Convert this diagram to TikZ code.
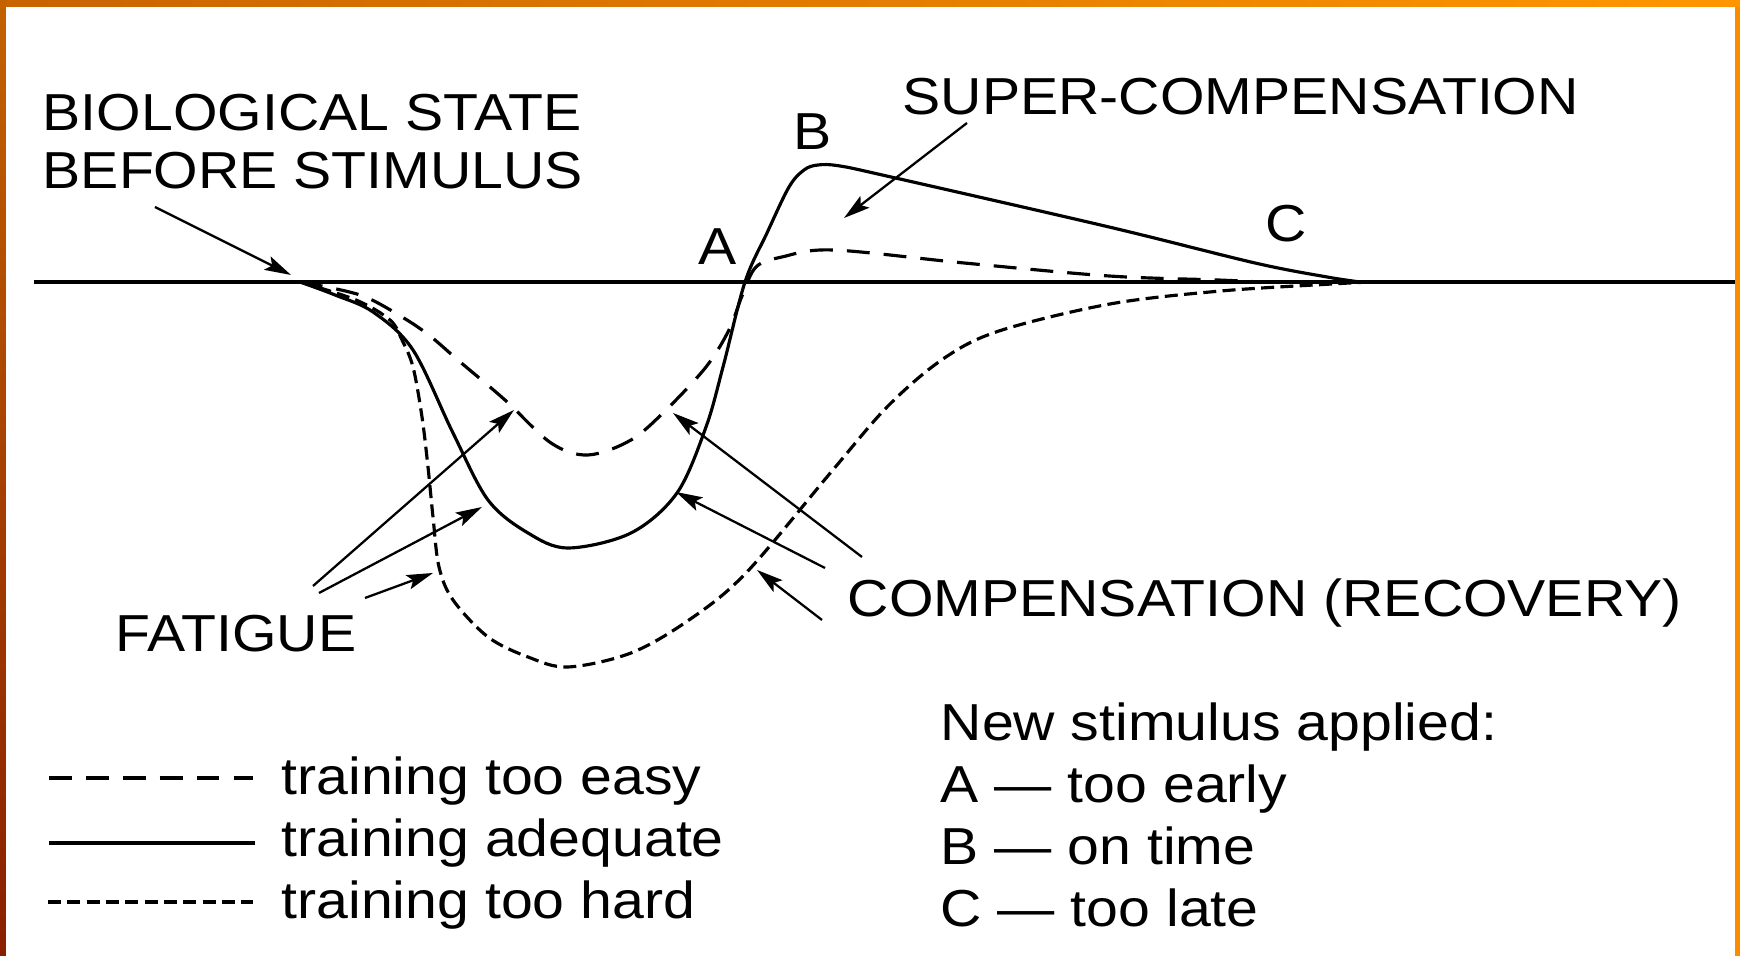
\documentclass[tikz,border=0pt]{standalone}
\usepackage{tikz}
\usetikzlibrary{arrows.meta,positioning,calc}
\usepackage{fontspec}
\setmainfont{Liberation Sans}[FakeStretch=1.1]
\definecolor{FrameTopL}{RGB}{200,100,0}
\definecolor{FrameTopR}{RGB}{255,150,0}
\definecolor{FrameLeftT}{RGB}{196,98,0}
\definecolor{FrameLeftB}{RGB}{138,30,0}
\definecolor{FrameRight}{RGB}{250,140,0}

\begin{document}
\begin{tikzpicture}[
  lbl/.style={font=\fontsize{14.8}{16.7}\selectfont,inner sep=0pt},
  arr/.style={-{Stealth[length=7.5pt,width=4.2pt,inset=1.5pt]},line width=0.65pt},
  adequate/.style={line width=0.9pt},
  tooeasy/.style={line width=0.9pt,dash pattern=on 6.5pt off 4pt},
  toohard/.style={line width=0.9pt,dash pattern=on 3.7pt off 1.8pt},
]
\useasboundingbox (0,0) rectangle (17.4,9.56);
\fill[white] (0,0) rectangle (17.4,9.56);
% frame
\shade[left color=FrameTopL,right color=FrameTopR] (0,9.49) rectangle (17.4,9.56);
\shade[top color=FrameLeftT,bottom color=FrameLeftB] (0,0) rectangle (0.06,9.56);
\fill[FrameRight] (17.35,0) rectangle (17.4,9.49);

% baseline (biological state)
\draw[line width=1pt] (0.34,6.74) -- (17.35,6.74);

% the three curves
\draw[adequate] plot[smooth,tension=0.55] coordinates {
  (3.00,6.74) (3.35,6.61) (3.73,6.44) (4.13,6.06) (4.53,5.23) (4.88,4.56)
  (5.28,4.23) (5.68,4.08) (6.31,4.23) (6.77,4.63) (7.06,5.29) (7.23,5.89)
  (7.45,6.74) (7.67,7.23) (7.89,7.69) (8.04,7.86) (8.18,7.91) (8.40,7.90)
  (8.91,7.79) (11.09,7.29) (12.55,6.93) (13.27,6.79) (13.60,6.74)};
\draw[tooeasy] plot[smooth,tension=0.55] coordinates {
  (3.00,6.74) (3.60,6.61) (4.02,6.39) (4.30,6.20) (4.59,5.95) (5.05,5.56)
  (5.51,5.13) (5.88,5.01) (6.31,5.16) (6.66,5.46) (7.06,5.89) (7.29,6.26)
  (7.42,6.60) (7.56,6.89) (7.82,6.99) (8.33,7.06) (9.64,6.93) (11.09,6.80)
  (12.18,6.76) (12.60,6.74)};
\draw[toohard] plot[smooth,tension=0.55] coordinates {
  (3.00,6.74) (3.56,6.56) (3.90,6.36) (4.02,6.16) (4.13,5.89) (4.22,5.39)
  (4.28,4.89) (4.33,4.39) (4.39,3.89) (4.53,3.56) (4.88,3.19) (5.28,2.99)
  (5.68,2.89) (6.31,3.03) (6.89,3.36) (7.46,3.83) (8.32,4.85) (8.88,5.50)
  (9.43,5.97) (9.99,6.25) (11.10,6.52) (12.21,6.65) (13.32,6.72) (13.71,6.74)};

% labels on the curves
\node[lbl,anchor=north west,align=left] (bio) at (0.42,8.63)
  {BIOLOGICAL STATE\\BEFORE STIMULUS};
\node[lbl,anchor=base west] (super) at (9.02,8.41) {SUPER-COMPENSATION};
\node[lbl,anchor=base west] (ptA) at (6.98,6.91) {A};
\node[lbl,anchor=base west] (ptB) at (7.93,8.06) {B};
\node[lbl,anchor=base west] (ptC) at (12.65,7.14) {C};
\node[lbl,anchor=base west] (fatigue) at (1.15,3.04) {FATIGUE};
\node[lbl,anchor=base west] (comp) at (8.47,3.39) {COMPENSATION (RECOVERY)};

% arrow ends
\coordinate (bioTail) at (1.55,7.49);
\coordinate (bioTip) at (2.91,6.81);
\coordinate (superTail) at (9.67,8.33);
\coordinate (superTip) at (8.44,7.38);
\coordinate (fatEasy) at (3.13,3.70);
\coordinate (fatAdeq) at (3.19,3.63);
\coordinate (fatHard) at (3.65,3.58);
\coordinate (easyDip) at (5.14,5.46);
\coordinate (adeqDip) at (4.82,4.49);
\coordinate (hardDip) at (4.33,3.83);
\coordinate (compEasy) at (8.62,3.99);
\coordinate (compAdeq) at (8.25,3.88);
\coordinate (compHard) at (8.22,3.36);
\coordinate (easyRise) at (6.73,5.43);
\coordinate (adeqRise) at (6.76,4.64);
\coordinate (hardRise) at (7.57,3.86);

\draw[arr] (bioTail) -- (bioTip);
\draw[arr] (superTail) -- (superTip);
\draw[arr] (fatEasy) -- (easyDip);
\draw[arr] (fatAdeq) -- (adeqDip);
\draw[arr] (fatHard) -- (hardDip);
\draw[arr] (compEasy) -- (easyRise);
\draw[arr] (compAdeq) -- (adeqRise);
\draw[arr] (compHard) -- (hardRise);

% legend, line styles
\node[lbl,anchor=base west] (easy) at (2.81,1.61) {training too easy};
\node[lbl,anchor=base west] (adeq) at (2.81,0.99) {training adequate};
\node[lbl,anchor=base west] (hard) at (2.81,0.37) {training too hard};
\draw[tooeasy] ([xshift=-2.32cm,yshift=0.17cm]easy.base west)
  -- ([xshift=-0.28cm,yshift=0.17cm]easy.base west);
\draw[adequate] ([xshift=-2.32cm,yshift=0.14cm]adeq.base west)
  -- ([xshift=-0.26cm,yshift=0.14cm]adeq.base west);
\draw[toohard] ([xshift=-2.33cm,yshift=0.17cm]hard.base west)
  -- ([xshift=-0.28cm,yshift=0.17cm]hard.base west);

% legend, timing of new stimulus
\node[lbl,anchor=base west] (newstim) at (9.40,2.15) {New stimulus applied:};
\node[lbl,anchor=base west] (early) at (9.40,1.53) {A — too early};
\node[lbl,anchor=base west] (ontime) at (9.40,0.91) {B — on time};
\node[lbl,anchor=base west] (late) at (9.40,0.29) {C — too late};
\end{tikzpicture}
\end{document}
